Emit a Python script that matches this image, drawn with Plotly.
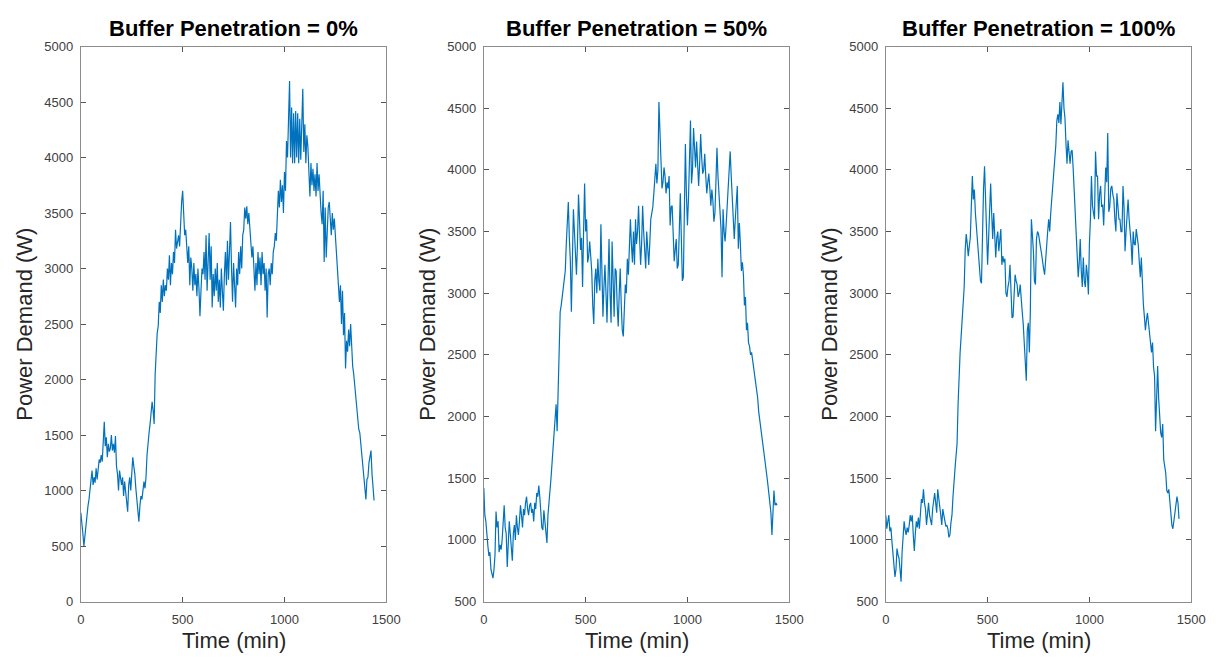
import plotly.graph_objects as go

# Sampling instants (min), one reading every 5 minutes over a day
time_min = list(range(0, 1441, 5))

# Aggregate household power demand (W), one row per hour of the day
demand_0 = [
    800, 720, 610, 500, 600, 680, 760, 860, 920, 990, 1080, 1180,
    1050, 1120, 1070, 1200, 1100, 1230, 1280, 1250, 1320, 1260, 1420, 1620,
    1400, 1480, 1300, 1420, 1350, 1380, 1500, 1360, 1420, 1340, 1490, 1220,
    1150, 1000, 1180, 1120, 1050, 1120, 950, 1080, 1000, 880, 810, 1050,
    1120, 1000, 1200, 1300, 1220, 1150, 1020, 900, 820, 720, 860, 950,
    920, 1000, 1080, 1020, 1120, 1320, 1450, 1520, 1600, 1700, 1800, 1720,
    1600, 2050, 2250, 2420, 2480, 2700, 2600, 2850, 2700, 2900, 2750, 2850,
    2800, 3000, 2900, 3120, 2850, 3050, 2950, 3150, 3050, 3350, 3180, 3250,
    3300, 3200, 3450, 3600, 3700, 3520, 3300, 3350, 3150, 3050, 3200, 2850,
    3100, 3000, 2800, 3050, 2850, 2950, 2750, 3000, 2820, 2570, 2800, 3000,
    2950, 3150, 2900, 3300, 2800, 3100, 3320, 2900, 3200, 2650, 2950, 2750,
    3000, 2800, 3050, 2700, 2900, 2650, 3000, 2800, 2620, 2950, 3150, 2850,
    3250, 2900, 3100, 3420, 3000, 2700, 3050, 2750, 2650, 3000, 2850, 3150,
    2950, 3200, 3000, 3300, 3350, 3550, 3450, 3560, 3400, 3500, 3380, 3250,
    3100, 3200, 2900, 2800, 3050, 2850, 3150, 2950, 3100, 2850, 3150, 2950,
    3050, 2800, 3000, 2560, 2950, 3000, 2850, 3050, 2950, 3150, 3200, 3320,
    3250, 3500, 3700, 3550, 3800, 3600, 3750, 3500, 3870, 3700, 4150, 4000,
    4350, 4690, 4000, 4450, 3950, 4400, 3950, 4420, 4000, 4400, 3950, 4350,
    3980, 4400, 4620, 4050, 4300, 3950, 4200, 4100, 3900, 3650, 3950, 3750,
    3900, 3700, 3850, 3650, 3950, 3700, 3850, 3600, 3500, 3400, 3700, 3060,
    3550, 3100, 3400, 3550, 3600, 3450, 3300, 3500, 3350, 3450, 3300, 3200,
    3100, 2950, 2700, 2850, 2500, 2800, 2400, 2600, 2100, 2350, 2250, 2450,
    2300, 2500, 2200, 2120, 2050, 1950, 1850, 1700, 1620, 1550, 1520, 1420,
    1330, 1250, 1150, 1050, 920, 1100, 1120, 1250, 1330, 1360, 1150, 1050,
    910,
]

demand_50 = [
    1420, 1200, 1150, 1000, 950, 870, 900, 760, 720, 690, 760, 880,
    1230, 1100, 1150, 900, 960, 920, 1000, 1150, 1280, 1100, 1050, 780,
    1000, 1150, 1050, 900, 830, 1050, 1120, 1000, 1200, 1100, 1040, 1150,
    1280, 1200, 1100, 1250, 1200, 1300, 1350, 1250, 1200, 1280, 1300, 1220,
    1250, 1150, 1300, 1250, 1380, 1350, 1440, 1350, 1200, 1100, 1080, 1240,
    1150, 1040, 975, 1200, 1330, 1420, 1500, 1620, 1750, 1880, 2000, 2100,
    1880, 2300, 2600, 2850, 2900, 2980, 3050, 3100, 3180, 3400, 3580, 3740,
    3450, 3260, 2850, 3300, 3680, 3500, 3300, 3150, 3400, 3800, 3600, 3350,
    3450, 3050, 3500, 3890, 3500, 3600, 3250, 3300, 3420, 3300, 3180, 2900,
    2750, 3100, 3200, 3000, 3280, 3100, 3020, 3560, 3200, 2810, 3050, 3230,
    3000, 2760, 3100, 3440, 3000, 2760, 3420, 3100, 2810, 3200, 3180, 2900,
    2730, 3000, 3200, 2900, 2700, 2650, 2900, 3070, 3000, 3280, 3150, 3400,
    3600, 3390, 3250, 3500, 3230, 3600, 3400, 3500, 3710, 3450, 3230, 3400,
    3710, 3500, 3340, 3200, 3500, 3350, 3230, 3400, 3600, 3650, 3700, 3810,
    3900, 4050, 3890, 4000, 4550, 4200, 4080, 3850, 3900, 4020, 3950, 3810,
    3900, 3850, 3950, 3550, 3700, 3710, 3450, 3260, 3350, 3440, 3200, 3230,
    3500, 3810, 3450, 3100, 3130, 3700, 4210, 3800, 3550, 3760, 4100, 4400,
    3890, 4000, 4340, 4150, 4020, 4230, 4000, 3870, 4050, 4290, 4100, 3970,
    4000, 4130, 3950, 3810, 3900, 3970, 3850, 3710, 3840, 3750, 3580, 3650,
    3900, 4180, 3950, 3810, 3600, 3520, 3130, 3680, 3500, 3420, 3550, 3700,
    3760, 3900, 4150, 3950, 3810, 3600, 3440, 3600, 3760, 3870, 3360, 3570,
    3400, 3180, 3250, 3150, 2900, 2970, 2700, 2760, 2600, 2570, 2500, 2520,
    2460, 2400, 2350, 2300, 2230, 2150, 2040, 1980, 1910, 1850, 1780, 1720,
    1650, 1580, 1520, 1450, 1380, 1330, 1220, 1040, 1250, 1400, 1280, 1300,
    1280,
]

demand_100 = [
    1200, 1090, 1150, 1200, 1070, 1100, 990, 900, 780, 700, 760, 930,
    880, 850, 760, 660, 900, 1040, 1150, 1080, 1040, 1100, 1060, 1120,
    1200, 1150, 1200, 1040, 910, 1050, 1150, 1100, 1180, 1090, 1250, 1330,
    1300, 1410, 1300, 1250, 1120, 1200, 1300, 1200, 1150, 1120, 1250, 1300,
    1380, 1300, 1220, 1410, 1350, 1300, 1200, 1120, 1250, 1200, 1150, 1110,
    1120, 1090, 1020, 1040, 1140, 1200, 1350, 1500, 1580, 1680, 1780, 2100,
    2400, 2520, 2650, 2780, 2900, 3050, 3350, 3480, 3400, 3300, 3380, 3450,
    3700, 3950, 3760, 3840, 3650, 3550, 3400, 3300, 3230, 3100, 3080, 3600,
    3850, 4030, 3700, 3500, 3230, 3450, 3650, 3890, 3650, 3440, 3650, 3500,
    3290, 3450, 3500, 3340, 3450, 3520, 3230, 3300, 3250, 3280, 3000, 2970,
    3050, 3100, 3230, 2910, 2800, 2810, 3000, 3150, 3100, 3070, 2970, 3000,
    3070, 2900, 2850, 2750, 2600, 2500, 2290, 2700, 2760, 2520, 2860, 3600,
    3500, 3340, 3100, 3070, 3440, 3500, 3480, 3400, 3370, 3320, 3230, 3200,
    3150, 3300, 3340, 3500, 3600, 3500, 3650, 3760, 3900, 4000, 4080, 4200,
    4400, 4450, 4380, 4550, 4370, 4500, 4710, 4500, 4420, 4210, 4050, 4240,
    4100, 4050, 4150, 4160, 4020, 3850, 3710, 3500, 3340, 3130, 3250, 3440,
    3180, 3050, 3290, 3100, 3050, 3230, 3150, 2990, 3400, 3600, 3950, 3710,
    3650, 3600, 4150, 3950, 3950, 3600, 3800, 3870, 3700, 3720, 3550, 3800,
    4020, 3900, 4300, 3660, 3700, 3850, 3870, 3800, 3760, 3600, 3500, 3810,
    3700, 3600, 3600, 3500, 3500, 3870, 3700, 3340, 3500, 3600, 3760, 3600,
    3520, 3400, 3230, 3500, 3400, 3390, 3520, 3450, 3390, 3250, 3130, 3290,
    3000, 2910, 2810, 2700, 2780, 2840, 2760, 2700, 2600, 2520, 2600, 2400,
    2330, 1880, 2200, 2410, 2150, 1940, 1870, 1830, 1940, 1650, 1580, 1540,
    1400, 1380, 1410, 1300, 1250, 1120, 1090, 1150, 1200, 1260, 1350, 1300,
    1170,
]

panel_titles = [
    "Buffer Penetration = 0%",
    "Buffer Penetration = 50%",
    "Buffer Penetration = 100%",
]
x_ticks = [0, 500, 1000, 1500]
y_ticks_0 = [0, 500, 1000, 1500, 2000, 2500, 3000, 3500, 4000, 4500, 5000]
y_ticks_buf = [500, 1000, 1500, 2000, 2500, 3000, 3500, 4000, 4500, 5000]

series = [demand_0, demand_50, demand_100]
y_ranges = [[0, 5000], [500, 5000], [500, 5000]]
y_tick_sets = [y_ticks_0, y_ticks_buf, y_ticks_buf]

W, H = 1220, 662
# Plot-area boxes in pixels: (left, right)
boxes = [(78, 388), (487, 797), (895, 1205)]
top_px, bottom_px = 40.5, 608.3
y_dom = [1 - bottom_px / H, 1 - top_px / H]

LINE = "#0072BD"
AXIS = "#8c8c8c"
FONT = "Liberation Sans, Arial, sans-serif"
TICKFONT = dict(family=FONT, size=13, color="#404040")

fig = go.Figure()
annotations = []
for i, (vals, yr, yt, title, (l, r)) in enumerate(
        zip(series, y_ranges, y_tick_sets, panel_titles, boxes)):
    n = i + 1
    xa = "x" if n == 1 else f"x{n}"
    ya = "y" if n == 1 else f"y{n}"
    fig.add_trace(go.Scatter(
        x=time_min, y=vals, mode="lines",
        line=dict(color=LINE, width=1.2),
        xaxis=xa, yaxis=ya, showlegend=False,
    ))
    x_dom = [l / W, r / W]
    axis_common = dict(
        showgrid=False, zeroline=False, showline=True, linecolor=AXIS,
        linewidth=1, mirror="ticks", ticks="inside", ticklen=5,
        tickcolor="#555555", tickwidth=1, tickfont=TICKFONT,
    )
    fig.update_layout({
        f"xaxis{'' if n == 1 else n}": dict(
            domain=x_dom, range=[0, 1500], tickvals=x_ticks,
            anchor=ya, ticklabelstandoff=6, **axis_common),
        f"yaxis{'' if n == 1 else n}": dict(
            domain=y_dom, range=yr, tickvals=yt,
            anchor=xa, ticklabelstandoff=4, **axis_common),
    })
    cx = (l + r) / 2 / W
    annotations.append(dict(
        text=f"<b>{title}</b>", x=cx, y=1 - 22 / H, xref="paper", yref="paper",
        xanchor="center", yanchor="middle", showarrow=False,
        font=dict(family=FONT, size=22, color="#000000")))
    annotations.append(dict(
        text="Time (min)", x=cx, y=1 - 648 / H, xref="paper", yref="paper",
        xanchor="center", yanchor="middle", showarrow=False,
        font=dict(family=FONT, size=22, color="#262626")))
    annotations.append(dict(
        text="Power Demand (W)", x=(l - 58) / W, y=(y_dom[0] + y_dom[1]) / 2,
        xref="paper", yref="paper", xanchor="center", yanchor="middle",
        textangle=-90, showarrow=False,
        font=dict(family=FONT, size=22, color="#262626")))

fig.update_layout(
    width=W, height=H,
    margin=dict(l=0, r=0, t=0, b=0),
    paper_bgcolor="white", plot_bgcolor="white",
    annotations=annotations,
)

fig.write_html("out.html")
